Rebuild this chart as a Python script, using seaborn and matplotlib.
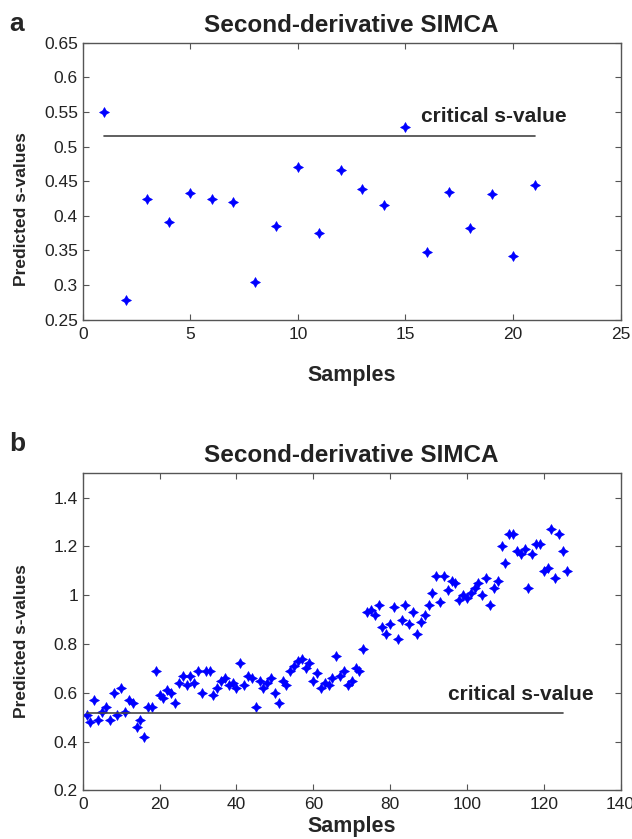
import matplotlib
matplotlib.use("Agg")
import matplotlib.pyplot as plt
import seaborn as sns
import pandas as pd
import numpy as np

# ---- data ----
samples_a = list(range(1, 22))
svals_a = [0.550, 0.278, 0.425, 0.391, 0.433, 0.424, 0.420, 0.305, 0.385, 0.470,
           0.375, 0.466, 0.439, 0.416, 0.528, 0.348, 0.434, 0.383, 0.431, 0.342, 0.445]
critical_a = 0.515

svals_b = [0.51, 0.48, 0.57, 0.49, 0.52, 0.54, 0.49, 0.60, 0.51, 0.62,
           0.52, 0.57, 0.56, 0.46, 0.49, 0.42, 0.54, 0.54, 0.69, 0.59,
           0.58, 0.61, 0.60, 0.56, 0.64, 0.67, 0.63, 0.67, 0.64, 0.69,
           0.60, 0.69, 0.69, 0.59, 0.62, 0.65, 0.66, 0.63, 0.64, 0.62,
           0.72, 0.63, 0.67, 0.66, 0.54, 0.65, 0.62, 0.64, 0.66, 0.60,
           0.56, 0.65, 0.63, 0.69, 0.71, 0.73, 0.74, 0.70, 0.72, 0.65,
           0.68, 0.62, 0.64, 0.63, 0.66, 0.75, 0.67, 0.69, 0.63, 0.65,
           0.70, 0.69, 0.78, 0.93, 0.94, 0.92, 0.96, 0.87, 0.84, 0.88,
           0.95, 0.82, 0.90, 0.96, 0.88, 0.93, 0.84, 0.89, 0.92, 0.96,
           1.01, 1.08, 0.97, 1.08, 1.02, 1.06, 1.05, 0.98, 1.00, 0.99,
           1.01, 1.03, 1.05, 1.00, 1.07, 0.96, 1.03, 1.06, 1.20, 1.13,
           1.25, 1.25, 1.18, 1.17, 1.19, 1.03, 1.17, 1.21, 1.21, 1.10,
           1.11, 1.27, 1.07, 1.25, 1.18, 1.10]
samples_b = list(range(1, len(svals_b) + 1))
critical_b = 0.515

title = "Second-derivative SIMCA"
xlabel = "Samples"
ylabel = "Predicted s-values"
crit_label = "critical s-value"

sns.set_style("ticks")
plt.rcParams['font.family'] = ['Liberation Sans', 'DejaVu Sans']

fig = plt.figure(figsize=(6.32, 8.39), dpi=100)
ax_a = fig.add_axes([0.131, 0.619, 0.851, 0.330])
ax_b = fig.add_axes([0.131, 0.058, 0.851, 0.378])

star = (4, 1, 0)
df_a = pd.DataFrame({"x": samples_a, "y": svals_a})
df_b = pd.DataFrame({"x": samples_b, "y": svals_b})

def style_ax(ax, ylab_y, xpad):
    for s in ax.spines.values():
        s.set_color("#555555")
        s.set_linewidth(1.0)
    ax.tick_params(direction="in", top=True, right=True, length=4, width=0.8,
                   color="#555555", labelsize=12.5, labelcolor="#222222")
    ax.tick_params(axis="x", pad=5)
    ax.set_xlabel(xlabel, fontsize=15.5, fontweight="bold", labelpad=xpad)
    ax.set_ylabel(ylabel, fontsize=12.5, fontweight="bold",
                  family=['Liberation Sans Narrow', 'Liberation Sans'])
    ax.yaxis.set_label_coords(-0.1, ylab_y)
    ax.set_title(title, fontsize=17.5, fontweight="bold", pad=8, color="#222222")

# panel a
sns.scatterplot(data=df_a, x="x", y="y", ax=ax_a, marker=star, s=50,
                color="#0000ff", edgecolor="#0000ff", linewidth=0.5)
crit_df_a = pd.DataFrame({"x": [samples_a[0], samples_a[-1]], "y": [critical_a, critical_a]})
sns.lineplot(data=crit_df_a, x="x", y="y", ax=ax_a, color="#444444", linewidth=1.2)
ax_a.set_xlim(0, 25)
ax_a.set_ylim(0.25, 0.65)
ax_a.set_xticks(np.arange(0, 26, 5))
ax_a.set_yticks(np.arange(0.25, 0.651, 0.05))
ax_a.set_yticklabels(["0.25", "0.3", "0.35", "0.4", "0.45", "0.5", "0.55", "0.6", "0.65"])
ax_a.text(15.7, 0.536, crit_label, fontsize=15, fontweight="bold", color="#222222")
style_ax(ax_a, 0.4, 17)

# panel b
sns.scatterplot(data=df_b, x="x", y="y", ax=ax_b, marker=star, s=50,
                color="#0000ff", edgecolor="#0000ff", linewidth=0.5)
crit_df_b = pd.DataFrame({"x": [samples_b[0], 125], "y": [critical_b, critical_b]})
sns.lineplot(data=crit_df_b, x="x", y="y", ax=ax_b, color="#444444", linewidth=1.2)
ax_b.set_xlim(0, 140)
ax_b.set_ylim(0.2, 1.5)
ax_b.set_xticks(np.arange(0, 141, 20))
ax_b.set_yticks(np.arange(0.2, 1.41, 0.2))
ax_b.set_yticklabels(["0.2", "0.4", "0.6", "0.8", "1", "1.2", "1.4"])
ax_b.text(95, 0.57, crit_label, fontsize=15, fontweight="bold", color="#222222")
style_ax(ax_b, 0.47, 3)

fig.text(0.015, 0.963, "a", fontsize=19, fontweight="bold")
fig.text(0.015, 0.462, "b", fontsize=19, fontweight="bold")

fig.savefig("out.png", dpi=100, facecolor="white")
